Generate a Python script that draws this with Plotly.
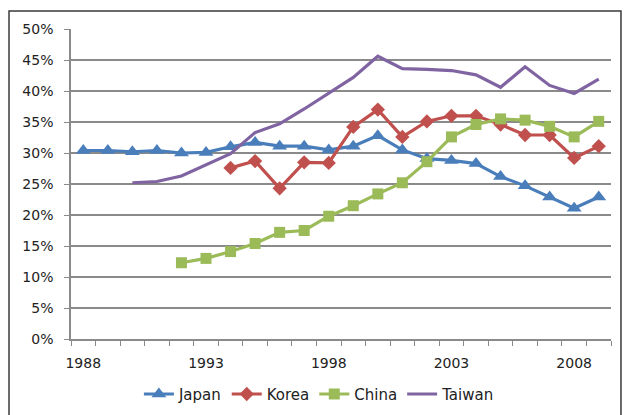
import plotly.graph_objects as go

years = list(range(1988, 2010))

japan = [30.4, 30.4, 30.2, 30.4, 30.0, 30.1, 31.0, 31.7, 31.1, 31.1, 30.5,
         31.1, 32.8, 30.5, 29.1, 28.8, 28.3, 26.2, 24.7, 22.9, 21.1, 22.9]
korea_years = list(range(1994, 2010))
korea = [27.6, 28.7, 24.3, 28.5, 28.4, 34.2, 37.0, 32.6, 35.1, 36.0, 36.0,
         34.6, 32.9, 32.9, 29.2, 31.1]
china_years = list(range(1992, 2010))
china = [12.3, 13.0, 14.1, 15.4, 17.2, 17.5, 19.8, 21.5, 23.4, 25.2, 28.6,
         32.6, 34.6, 35.5, 35.3, 34.3, 32.6, 35.1]
taiwan_years = list(range(1990, 2010))
taiwan = [25.2, 25.4, 26.3, 28.1, 29.9, 33.3, 34.7, 37.1, 39.6, 42.2, 45.6,
          43.6, 43.5, 43.3, 42.6, 40.6, 43.9, 40.9, 39.6, 41.9]

x_labels = [1988, 1993, 1998, 2003, 2008]
y_ticks = [0, 5, 10, 15, 20, 25, 30, 35, 40, 45, 50]

FONT = "DejaVu Sans"
GRID = "#8a8a8a"

fig = go.Figure()
fig.add_trace(go.Scatter(
    x=years, y=japan, name="Japan", mode="lines+markers",
    line=dict(color="#4a7ebb", width=3.2),
    marker=dict(symbol="triangle-up", size=13, color="#4a7ebb")))
fig.add_trace(go.Scatter(
    x=korea_years, y=korea, name="Korea", mode="lines+markers",
    line=dict(color="#c0504d", width=3.2),
    marker=dict(symbol="diamond", size=11, color="#c0504d")))
fig.add_trace(go.Scatter(
    x=china_years, y=china, name="China", mode="lines+markers",
    line=dict(color="#9bbb59", width=3.2),
    marker=dict(symbol="square", size=11, color="#9bbb59")))
fig.add_trace(go.Scatter(
    x=taiwan_years, y=taiwan, name="Taiwan", mode="lines",
    line=dict(color="#8064a2", width=3.2)))

fig.update_layout(
    width=628, height=415,
    margin=dict(l=71, r=17, t=29, b=76, autoexpand=False),
    paper_bgcolor="white", plot_bgcolor="white",
    font=dict(family=FONT, size=14, color="#222222"),
    showlegend=True,
    legend=dict(orientation="h", x=0.46, xanchor="center", y=-0.125,
                yanchor="top", font=dict(size=15), itemwidth=30,
                tracegroupgap=0),
    xaxis=dict(
        range=[1987.5, 2009.5], showgrid=False, zeroline=False,
        tickmode="array", tickvals=x_labels,
        ticktext=[str(v) for v in x_labels], ticks="",
        showline=True, linecolor=GRID, linewidth=1.5,
        minor=dict(tickmode="linear", tick0=1987.5, dtick=1,
                   ticks="outside", ticklen=5, tickcolor=GRID,
                   showgrid=False),
        tickfont=dict(size=14), ticklabelstandoff=10),
    yaxis=dict(
        range=[0, 50], tickvals=y_ticks,
        ticktext=[f"{v}%" for v in y_ticks],
        showgrid=True, gridcolor=GRID, gridwidth=1.5, zeroline=False,
        showline=True, linecolor=GRID, linewidth=1.5,
        ticks="outside", ticklen=5, tickcolor=GRID,
        tickfont=dict(size=14), ticklabelstandoff=8),
    shapes=[dict(type="rect", xref="paper", yref="paper",
                 x0=-0.1148, x1=1.0185, y0=-0.3, y1=1.058,
                 line=dict(color="#3a3a3a", width=1.5))],
)

fig.write_html("out.html")
